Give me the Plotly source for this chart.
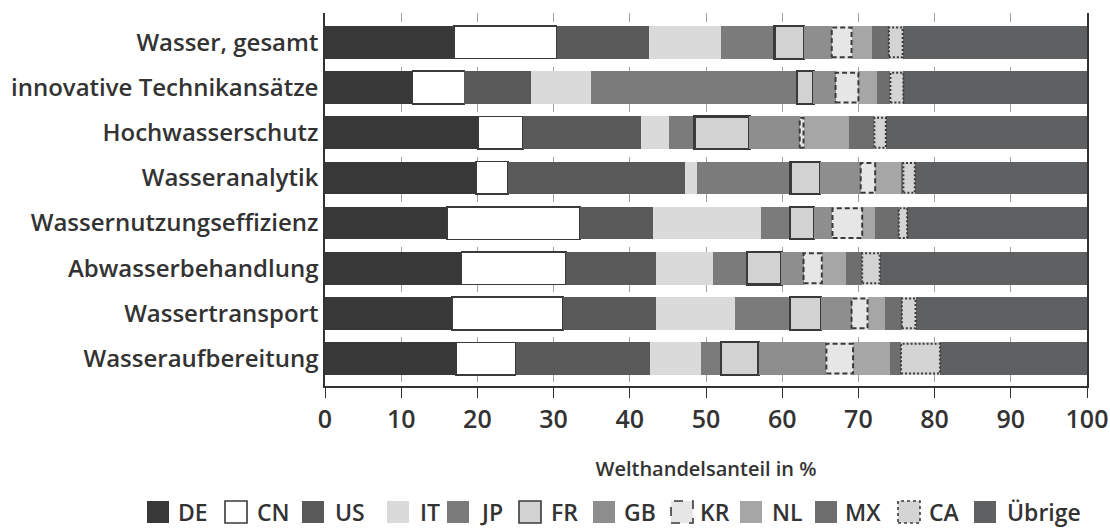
import numpy as np
import plotly.graph_objects as go

# ---------------- data ----------------
categories = ["Wasser, gesamt", "innovative Technikansätze", "Hochwasserschutz",
              "Wasseranalytik", "Wassernutzungseffizienz", "Abwasserbehandlung",
              "Wassertransport", "Wasseraufbereitung"]
countries = ["DE", "CN", "US", "IT", "JP", "FR", "GB", "KR", "NL", "MX", "CA", "Übrige"]

DE = [16.9, 11.5, 20.1, 19.8, 16.0, 17.9, 16.7, 17.2]
CN = [13.5, 6.8, 5.9, 4.2, 17.5, 13.7, 14.5, 7.8]
US = [12.1, 8.7, 15.5, 23.3, 9.5, 11.9, 12.2, 17.6]
IT = [9.5, 7.9, 3.7, 1.5, 14.2, 7.4, 10.4, 6.8]
JP = [7.0, 27.0, 3.3, 12.3, 3.8, 4.5, 7.2, 2.6]
FR = [3.9, 2.2, 7.2, 3.9, 3.2, 4.5, 4.1, 4.9]
GB = [3.6, 2.9, 6.6, 5.3, 2.4, 2.9, 4.0, 8.9]
KR = [2.6, 3.0, 0.5, 1.9, 3.9, 2.4, 2.1, 3.5]
NL = [2.7, 2.4, 6.0, 3.5, 1.7, 3.2, 2.3, 4.8]
MX = [2.2, 1.8, 3.3, 0.2, 3.1, 2.1, 2.2, 1.5]
CA = [1.8, 1.7, 1.5, 1.5, 1.1, 2.3, 1.8, 5.1]
UEBRIGE = [24.2, 24.1, 26.4, 22.6, 23.6, 27.2, 22.5, 19.3]

x_ticks = [0, 10, 20, 30, 40, 50, 60, 70, 80, 90, 100]
x_title = "Welthandelsanteil in %"

series = [DE, CN, US, IT, JP, FR, GB, KR, NL, MX, CA, UEBRIGE]

# ---------------- styles ----------------
fills = {"DE": "#383838", "CN": "#ffffff", "US": "#595959", "IT": "#dadada",
         "JP": "#7b7b7b", "FR": "#d2d2d2", "GB": "#8e8e8e", "KR": "#e6e6e6",
         "NL": "#a6a6a6", "MX": "#6e6e6e", "CA": "#d4d4d4", "Übrige": "#5f6062"}
solid_border = {"CN": 1.6, "FR": 2.2}
dashed_border = {"KR": "5px,3px", "CA": "2px,2px"}
EDGE = "#3a3a3a"
TXT = "#333333"
FONT = "Open Sans"
WEIGHT = 600
BAR_W = 0.72

n = len(categories)
ypos = np.arange(n)[::-1]  # first category on top

fig = go.Figure()
for name, vals in zip(countries, series):
    lw = solid_border.get(name, 0)
    fig.add_trace(go.Bar(
        x=vals, y=ypos, orientation="h", name=name, width=BAR_W,
        marker=dict(color=fills[name], line=dict(color=EDGE, width=lw)),
        showlegend=False, hoverinfo="x+name"))

# dashed / dotted outlines for KR and CA, computed from the stacked data
cum = np.cumsum(np.array(series), axis=0)
for name, dash in dashed_border.items():
    k = countries.index(name)
    right = cum[k]
    left = right - np.array(series[k])
    xs, ys = [], []
    for l, r, yc in zip(left, right, ypos):
        if r - l <= 0:
            continue
        y0, y1 = yc - BAR_W / 2 + 0.03, yc + BAR_W / 2 - 0.03
        xs += [l, r, r, l, l, None]
        ys += [y0, y0, y1, y1, y0, None]
    fig.add_trace(go.Scatter(x=xs, y=ys, mode="lines",
                             line=dict(color=EDGE, width=2, dash=dash),
                             showlegend=False, hoverinfo="skip"))

# ---------------- layout ----------------
W, H = 1110, 531
ML, MR, MT, MB = 325, 23, 13, 145
pw, ph = W - ML - MR, H - MT - MB

def px2paper_x(px):
    return (px - ML) / pw

def px2paper_y(py):
    return (H - MB - py) / ph

def f(size):
    return dict(size=size, family=FONT, color=TXT, weight=WEIGHT)

fig.update_layout(
    width=W, height=H,
    margin=dict(l=ML, r=MR, t=MT, b=MB, autoexpand=False),
    barmode="stack", bargap=0.28,
    plot_bgcolor="white", paper_bgcolor="white",
    font=f(22),
    showlegend=False,
    xaxis=dict(range=[0, 100], tickvals=x_ticks, ticks="outside", ticklen=10,
               tickwidth=1, tickcolor=TXT, showline=True, linecolor=TXT, linewidth=1.5,
               showgrid=True, gridcolor="#a0a0a0", griddash="dash", gridwidth=1,
               zeroline=False, tickfont=f(25),
               title=dict(text=x_title, font=f(20), standoff=28)),
    yaxis=dict(range=[-0.606, 7.65], tickvals=list(ypos), ticktext=categories,
               ticks="", showline=True, mirror=True, linecolor=TXT, linewidth=1.5,
               showgrid=False, zeroline=False, tickfont=f(24)),
)

# ---------------- manual legend ----------------
leg_sq_left = [147, 225, 302, 387, 447, 519, 593, 671, 740, 815, 898, 974]
leg_txt_left = [176, 255, 333, 418, 478, 549, 622, 698, 770, 843, 927, 1005]
SQ = 22
leg_cy = 512
shapes = []
annotations = []
for name, sx, tx in zip(countries, leg_sq_left, leg_txt_left):
    line = dict(width=0)
    if name in solid_border:
        line = dict(color=EDGE, width=1.6)
    if name in dashed_border:
        line = dict(color=EDGE, width=1.6, dash="dash" if name == "KR" else "dot")
    shapes.append(dict(type="rect", xref="paper", yref="paper",
                       x0=px2paper_x(sx), x1=px2paper_x(sx + SQ),
                       y0=px2paper_y(leg_cy + SQ / 2), y1=px2paper_y(leg_cy - SQ / 2),
                       fillcolor=fills[name], line=line, layer="above"))
    annotations.append(dict(text=name, xref="paper", yref="paper",
                            x=px2paper_x(tx), y=px2paper_y(leg_cy),
                            xanchor="left", yanchor="middle", showarrow=False,
                            font=f(23)))
fig.update_layout(shapes=shapes, annotations=annotations)

fig.write_html("out.html", config={"displayModeBar": False},
               post_script="document.body.style.margin='0';")
